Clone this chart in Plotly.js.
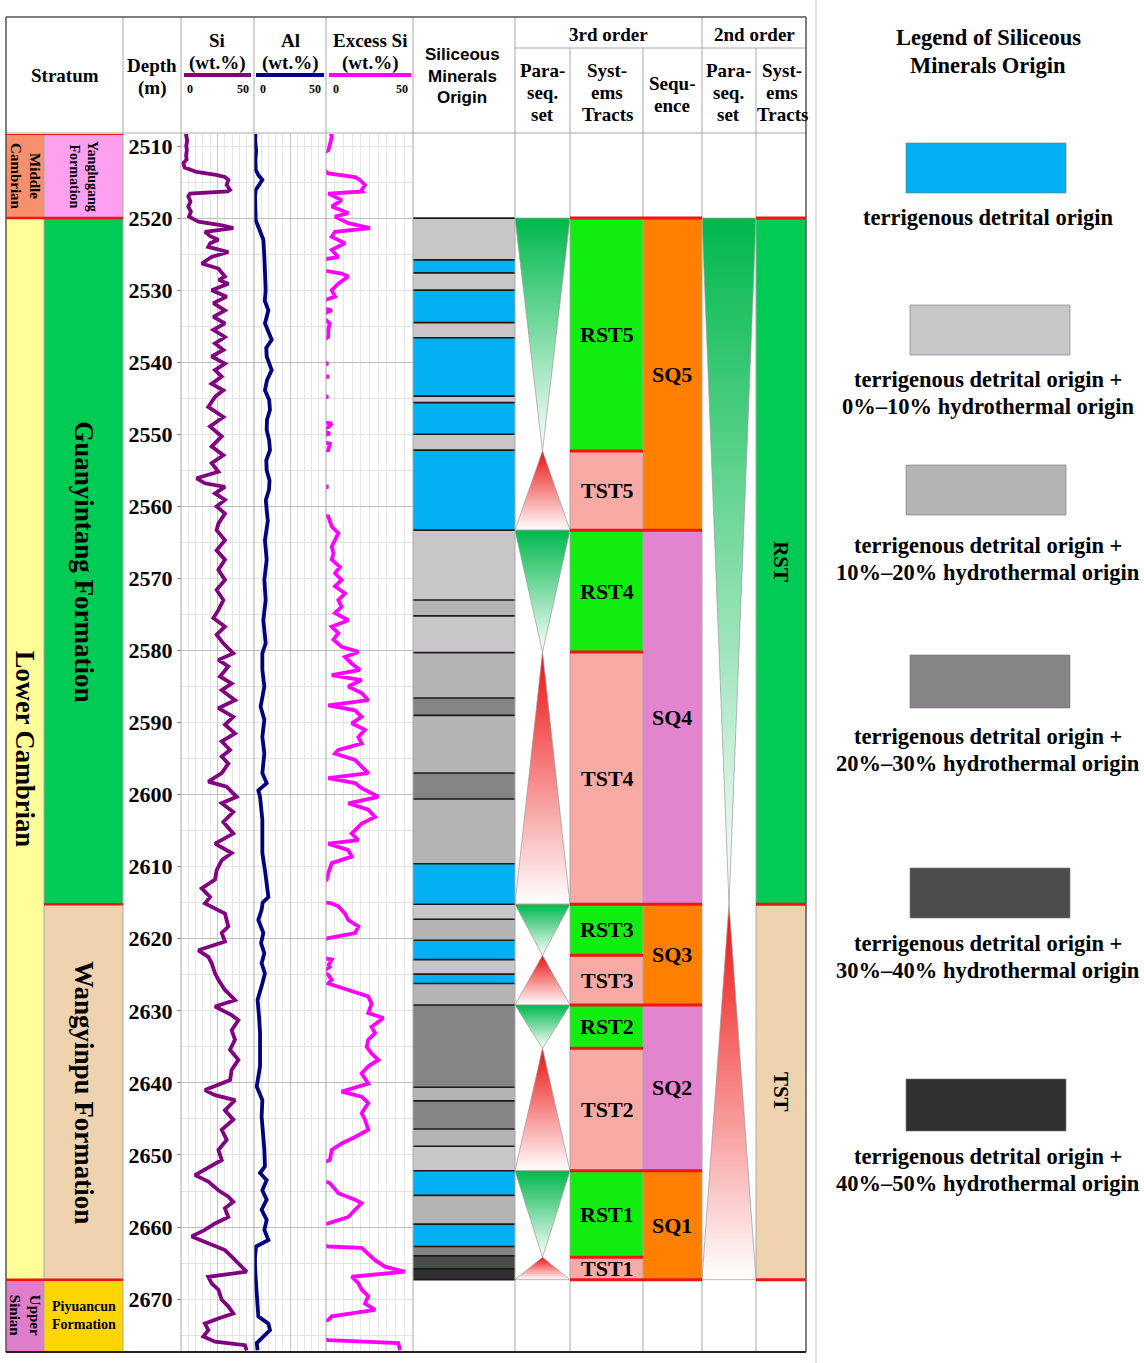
<!DOCTYPE html>
<html><head><meta charset="utf-8">
<script src="https://cdn.plot.ly/plotly-3.0.1.min.js"></script>
<style>html,body{margin:0;padding:0;background:#fff;}#chart{width:1144px;height:1363px;}</style>
</head><body><div id="chart"></div>
<script>
// ===================== DATA =====================
const eraNames = ['Middle Cambrian', 'Lower Cambrian', 'Upper Sinian'];
const eraTop = [2508.33, 2520.0, 2667.3];
const eraBase = [2520.0, 2667.3, 2677.34];

const formationNames = ['Yanglugang Formation', 'Guanyintang Formation', 'Wangyinpu Formation', 'Piyuancun Formation'];
const formationTop = [2508.33, 2520.0, 2615.2, 2667.3];
const formationBase = [2520.0, 2615.2, 2667.3, 2677.34];

// depth (m), Si (wt.%)
const siProfile = [
[2507.8,4.0],[2508.5,3.5],[2509.2,4.2],[2510.0,3.6],[2510.6,4.0],[2511.3,3.5],[2511.9,3.8],[2512.4,1.6],[2513.0,2.5],[2513.6,10.7],
[2514.0,24.0],[2514.3,30.1],[2514.7,32.4],[2515.4,31.3],[2516.1,33.6],[2516.3,32.0],[2516.6,6.2],[2517.0,5.0],[2517.7,6.5],[2518.4,5.0],
[2519.1,6.8],[2519.8,5.5],[2520.5,11.9],[2521.0,28.0],[2521.4,35.8],[2521.9,16.4],[2522.5,20.0],[2523.0,25.6],[2523.5,20.0],[2524.0,18.7],
[2524.7,32.4],[2525.4,21.0],[2526.3,14.2],[2527.0,25.6],[2528.1,30.1],[2528.6,26.0],[2529.1,32.4],[2530.0,21.0],[2530.9,31.3],[2531.8,22.2],
[2532.8,30.1],[2533.7,22.2],[2534.6,30.1],[2535.5,22.2],[2536.5,30.1],[2537.4,23.3],[2538.3,29.0],[2539.2,21.0],[2540.2,30.1],[2541.1,23.3],
[2542.0,27.9],[2543.0,21.0],[2543.9,29.0],[2544.8,23.3],[2546.2,18.7],[2547.6,29.0],[2548.9,19.9],[2550.3,27.9],[2551.7,21.0],[2552.9,29.0],
[2554.0,21.0],[2555.2,25.6],[2556.1,10.7],[2556.8,16.4],[2557.3,30.1],[2558.2,23.3],[2559.1,30.1],[2560.0,24.4],[2561.0,30.1],[2562.4,25.6],
[2563.3,24.4],[2564.7,30.1],[2566.1,24.4],[2567.4,30.1],[2568.8,25.6],[2570.2,30.1],[2571.6,24.4],[2573.0,29.0],[2574.4,25.6],[2575.5,22.2],
[2576.7,30.1],[2577.8,24.4],[2579.0,29.0],[2580.4,35.8],[2581.3,25.6],[2582.2,32.4],[2583.6,26.7],[2584.6,34.7],[2585.5,27.9],[2586.9,37.0],
[2588.0,25.6],[2589.2,35.8],[2590.3,30.1],[2591.5,37.0],[2592.6,27.9],[2593.8,33.6],[2594.7,27.9],[2595.7,32.4],[2597.0,27.9],[2598.2,18.7],
[2598.9,31.3],[2600.3,38.1],[2601.2,27.9],[2602.4,35.8],[2603.8,29.0],[2605.4,35.8],[2606.8,23.3],[2608.1,34.7],[2609.1,27.9],[2610.5,24.4],
[2611.8,23.3],[2613.0,14.2],[2614.2,19.9],[2615.1,16.4],[2616.5,30.1],[2618.3,32.4],[2619.2,27.9],[2620.4,30.1],[2621.6,11.9],[2622.5,18.7],
[2623.4,21.0],[2624.8,23.3],[2625.7,25.6],[2627.1,30.1],[2628.5,37.0],[2629.4,23.3],[2630.6,34.7],[2631.3,39.3],[2632.7,34.7],[2634.0,37.0],
[2635.4,33.6],[2636.8,39.3],[2638.2,34.7],[2639.6,33.6],[2641.0,16.4],[2641.7,23.3],[2642.4,37.0],[2643.8,30.1],[2645.1,35.8],[2646.5,27.9],
[2647.9,31.3],[2649.3,25.6],[2650.7,27.9],[2652.1,16.4],[2652.8,9.6],[2653.7,18.7],[2654.9,25.6],[2655.8,32.4],[2656.5,35.8],[2657.4,30.1],
[2658.6,32.4],[2659.5,23.3],[2660.4,16.4],[2661.3,7.3],[2662.3,18.7],[2663.2,30.1],[2664.1,34.7],[2665.0,39.3],[2666.2,45.0],[2666.9,18.7],
[2667.8,21.0],[2668.7,25.6],[2670.1,27.9],[2671.0,32.4],[2672.0,35.8],[2672.7,25.6],[2673.4,16.4],[2674.3,18.7],[2675.2,15.3],[2675.9,23.3],
[2676.4,43.8],[2677.1,45.0]
];

// depth (m), Al (wt.%)
const alProfile = [
[2507.8,1.2],[2509.2,0.8],[2510.6,1.5],[2511.9,1.0],[2513.3,1.2],[2514.0,3.0],[2514.7,5.8],[2515.4,3.5],[2516.1,1.2],[2517.0,0.7],
[2518.4,1.0],[2519.8,0.8],[2520.3,1.2],[2521.2,3.0],[2523.0,6.5],[2525.4,7.2],[2527.2,7.6],[2528.5,8.4],[2530.0,8.1],[2531.5,7.5],
[2532.8,10.0],[2534.6,7.6],[2536.9,12.3],[2538.0,8.5],[2539.2,8.8],[2541.1,12.3],[2542.5,9.0],[2543.9,7.6],[2545.2,10.5],[2546.6,11.1],
[2548.0,9.0],[2549.4,8.8],[2550.8,10.5],[2552.2,11.1],[2553.6,8.5],[2555.0,8.8],[2556.4,10.8],[2557.7,10.4],[2559.1,8.2],[2560.5,8.8],
[2562.0,9.6],[2564.7,7.6],[2567.4,8.8],[2570.2,7.2],[2573.0,8.1],[2575.8,6.5],[2579.0,8.1],[2580.4,5.8],[2582.7,5.8],[2585.0,7.2],
[2587.8,4.6],[2589.6,7.2],[2592.0,5.8],[2594.3,7.2],[2597.0,5.8],[2598.4,8.8],[2599.4,3.0],[2600.3,4.2],[2603.5,5.8],[2605.8,5.8],
[2608.1,5.8],[2610.5,7.6],[2612.8,9.5],[2614.2,10.0],[2615.0,6.0],[2616.0,5.3],[2617.4,3.0],[2619.2,6.5],[2620.6,4.9],[2622.0,7.2],
[2623.4,5.3],[2624.8,7.6],[2626.2,5.8],[2628.5,2.5],[2630.8,3.5],[2633.1,4.2],[2635.4,4.2],[2637.7,4.2],[2640.5,1.9],[2642.4,5.8],
[2644.7,5.3],[2647.0,6.5],[2649.3,7.2],[2651.6,7.6],[2652.5,4.2],[2653.5,8.8],[2654.9,5.8],[2656.2,8.8],[2657.6,5.3],[2659.0,8.8],
[2660.4,7.2],[2661.8,10.0],[2662.7,1.4],[2664.1,0.7],[2665.5,0.7],[2667.8,1.4],[2670.1,1.9],[2672.4,3.0],[2673.4,10.0],[2674.3,11.1],
[2675.2,6.5],[2676.1,1.9],[2677.1,2.5]
];

// depth (m), Excess Si (wt.%)  (negative values fall outside the 0-50 track)
const exProfile = [
[2507.8,2.2],[2508.7,3.3],[2509.6,2.5],[2510.6,1.3],[2511.2,-3],[2512.9,-3],[2513.8,1.3],[2514.3,16.7],[2514.7,19.5],[2515.4,22.4],
[2516.1,20.5],[2516.3,21.0],[2516.6,1.3],[2517.5,9.0],[2518.4,3.3],[2519.3,12.8],[2519.8,5.2],[2520.7,12.8],[2521.4,25.3],[2521.9,5.2],
[2522.6,3.3],[2523.5,10.9],[2524.4,3.3],[2525.4,7.1],[2525.8,-3],[2527.2,-3],[2527.7,9.0],[2528.1,12.8],[2529.1,7.1],[2530.0,3.3],
[2530.9,5.2],[2531.6,-3],[2532.5,-2],[2532.8,3.3],[2533.5,-3],[2534.6,2.2],[2535.5,1.3],[2536.5,1.3],[2537.2,-3],[2539.9,-3],
[2540.2,1.3],[2540.4,-3],[2541.8,-3],[2542.0,1.8],[2542.2,-3],[2544.6,-3],[2544.8,1.3],[2545.0,-3],[2548.3,-3],[2548.5,3.3],
[2549.0,1.5],[2549.4,-3],[2549.9,2.2],[2550.3,-3],[2551.0,-3],[2551.3,2.2],[2552.2,1.3],[2552.4,-3],[2557.0,-3],[2557.3,1.3],
[2557.5,-3],[2561.2,-3],[2561.4,1.3],[2562.8,3.3],[2563.7,7.1],[2564.7,5.2],[2565.6,3.3],[2566.5,4.3],[2567.4,3.3],[2568.4,8.0],
[2569.3,5.2],[2570.2,9.0],[2571.1,5.2],[2572.1,10.9],[2573.0,7.1],[2573.9,9.0],[2574.8,5.2],[2575.8,12.8],[2576.7,3.3],[2577.6,7.1],
[2578.5,4.3],[2579.5,9.0],[2580.2,18.6],[2580.9,10.9],[2581.8,14.8],[2582.7,19.5],[2583.4,3.3],[2584.1,20.5],[2585.0,12.8],[2585.9,20.5],
[2586.9,24.3],[2587.6,1.3],[2588.3,16.7],[2589.2,20.5],[2590.1,14.8],[2591.0,22.4],[2592.0,18.6],[2592.9,20.5],[2593.8,7.1],[2594.3,5.2],
[2595.2,16.7],[2596.1,20.5],[2597.0,24.3],[2597.7,1.3],[2598.4,16.7],[2599.1,20.5],[2600.3,30.1],[2601.2,12.8],[2602.1,24.3],[2603.1,28.2],
[2604.0,20.5],[2605.4,14.8],[2606.3,18.6],[2606.8,1.3],[2607.7,12.8],[2608.6,14.8],[2609.5,3.3],[2610.9,1.3],[2611.8,0.4],[2612.5,-3],
[2614.9,-3],[2615.1,3.3],[2615.5,7.1],[2616.5,10.9],[2617.4,12.8],[2618.3,18.6],[2619.2,16.7],[2619.9,1.3],[2620.2,-3],[2622.6,-3],
[2622.9,3.3],[2623.6,1.5],[2623.9,2.2],[2624.6,-2],[2625.0,1.3],[2625.7,3.3],[2626.2,1.3],[2627.1,12.8],[2628.0,24.3],[2629.0,26.2],
[2630.3,24.3],[2631.0,33.0],[2632.2,26.2],[2633.1,28.2],[2634.0,24.3],[2635.0,23.4],[2635.9,26.2],[2636.8,30.1],[2637.7,24.3],[2638.7,20.5],
[2640.1,24.3],[2641.2,9.0],[2641.9,20.5],[2642.8,24.3],[2644.2,20.5],[2645.1,22.4],[2646.5,24.3],[2647.5,16.7],[2648.4,9.0],[2649.3,3.3],
[2650.7,2.2],[2651.2,-3],[2653.5,-3],[2653.9,2.2],[2655.3,7.1],[2656.2,16.7],[2656.7,20.5],[2657.6,16.7],[2658.6,12.8],[2659.5,1.3],
[2659.7,-3],[2662.5,-3],[2662.7,1.3],[2662.9,20.5],[2663.7,24.3],[2664.6,28.2],[2665.5,33.9],[2666.2,45.4],[2666.9,14.8],[2667.8,18.6],
[2668.7,20.5],[2669.6,24.3],[2670.6,22.4],[2671.5,28.2],[2672.4,3.3],[2672.9,1.3],[2673.1,-3],[2675.4,-3],[2675.7,1.3],[2676.1,41.6],
[2677.1,42.5]
];

// siliceous minerals origin layers: boundaries (m) and class index per layer
const originDepths = [2520.0,2525.8,2527.6,2530.0,2534.5,2536.6,2544.7,2545.6,2550.0,2552.2,2563.3,2573.0,2575.2,2580.3,2586.6,2589.0,2597.0,2600.6,2609.6,2615.2,2617.3,2620.2,2622.9,2624.9,2626.2,2629.2,2640.6,2642.5,2646.4,2648.8,2652.2,2655.6,2659.6,2662.7,2664.0,2665.8,2667.3];
const originClass = [1,0,1,0,1,0,1,0,1,0, 1,2,1,2,3,2,3,2,0,1, 2,0,1,0,2,3,2,3,2,1, 0,2,0,3,4,5];
const originLabels = [
  ['terrigenous detrital origin'],
  ['terrigenous detrital origin +', '0%\u201310% hydrothermal origin'],
  ['terrigenous detrital origin +', '10%\u201320% hydrothermal origin'],
  ['terrigenous detrital origin +', '20%\u201330% hydrothermal origin'],
  ['terrigenous detrital origin +', '30%\u201340% hydrothermal origin'],
  ['terrigenous detrital origin +', '40%\u201350% hydrothermal origin']
];

// 3rd order
const tract3Names = ['RST5','TST5','RST4','TST4','RST3','TST3','RST2','TST2','RST1','TST1'];
const tract3Top  = [2520.0,2552.3,2563.3,2580.2,2615.2,2622.3,2629.2,2635.2,2652.2,2664.2];
const tract3Base = [2552.3,2563.3,2580.2,2615.2,2622.3,2629.2,2635.2,2652.2,2664.2,2667.3];
const seq3Names = ['SQ5','SQ4','SQ3','SQ2','SQ1'];
const seq3Top  = [2520.0,2563.3,2615.2,2629.2,2652.2];
const seq3Base = [2563.3,2615.2,2629.2,2652.2,2667.3];
// 2nd order
const tract2Names = ['RST','TST'];
const tract2Top  = [2520.0,2615.2];
const tract2Base = [2615.2,2667.3];

// ===================== STYLE / LAYOUT CONSTANTS =====================
const W = 1144, H = 1363;
const fx = px => px / W;
const fy = py => 1 - py / H;
const DEPTH_TOP = 2508.33, DEPTH_BOTTOM = 2677.34;
const PLOT_TOP = 134, PLOT_BOTTOM = 1352;
const COL = {era:[6,44], fm:[44,123], si:[181,254], al:[254,326], ex:[326,413], sil:[413,515],
             ps3:[515,570], st3:[570,643], sq3:[643,702], ps2:[702,756], st2:[756,806]};
const SERIF = 'Liberation Serif, Times New Roman, serif';
const SANS = 'Liberation Sans, Arial, sans-serif';
const RED = '#F01515';
const ERA_STYLE = {
  'Middle Cambrian': {color:'#F8906E', text:'Middle<br>Cambrian', size:15},
  'Lower Cambrian':  {color:'#FFFF99', text:'Lower Cambrian', size:26.5},
  'Upper Sinian':    {color:'#E07DCB', text:'Upper<br>Sinian', size:15}
};
const FM_STYLE = {
  'Yanglugang Formation':  {color:'#FDA0F0', text:'Yanglugang<br>Formation', size:14, angle:90},
  'Guanyintang Formation': {color:'#00CC55', text:'Guanyintang Formation', size:27, angle:90},
  'Wangyinpu Formation':   {color:'#EFD3AE', text:'Wangyinpu Formation', size:27, angle:90},
  'Piyuancun Formation':   {color:'#FFD500', text:'Piyuancun<br>Formation', size:14, angle:0}
};
const ORIGIN_COLORS = ['#00B0F0','#C8C6C9','#B4B4B4','#858385','#4B4D4B','#303030'];
const TRACT_COLOR = {RST:'#10EE10', TST:'#F9AAA4'};
const SEQ_COLORS = ['#FF8000','#E384CF'];
const TRACT2_COLOR = {RST:'#00CC55', TST:'#EFD3AE'};
const GREEN_GRAD = [[0,'#00B84C'],[1,'#FFFFFF']];
const RED_GRAD = [[0,'#EE1010'],[1,'#FFFFFF']];

// ===================== LAYOUT =====================
const layout = {width:W, height:H, margin:{l:0,r:0,t:0,b:0}, paper_bgcolor:'#FFFFFF', plot_bgcolor:'rgba(0,0,0,0)',
  showlegend:false, barmode:'overlay', hovermode:false, shapes:[], annotations:[]};
const yDomain = [fy(PLOT_BOTTOM), fy(PLOT_TOP)];
function blockAxis(c){ return {domain:[fx(c[0]),fx(c[1])], range:[0,1], type:'linear', visible:false, fixedrange:true, anchor:'y2'}; }
function curveAxis(c, major){ return {domain:[fx(c[0]),fx(c[1])], range:[0,50], type:'linear', showgrid:true, gridcolor:'#C6C6C6', gridwidth:1,
  tick0:0, dtick:major, minor:{tick0:0, dtick:5, showgrid:true, gridcolor:'#E6E6E6', gridwidth:1},
  showticklabels:false, ticks:'', zeroline:false, showline:false, fixedrange:true, anchor:'y'}; }
layout.xaxis = blockAxis(COL.era);
layout.xaxis2 = blockAxis(COL.fm);
layout.xaxis3 = curveAxis(COL.si, 25);
layout.xaxis4 = curveAxis(COL.al, 25);
layout.xaxis5 = curveAxis(COL.ex, 50);
layout.xaxis6 = blockAxis(COL.sil);
layout.xaxis7 = blockAxis(COL.ps3);
layout.xaxis8 = blockAxis(COL.st3);
layout.xaxis9 = blockAxis(COL.sq3);
layout.xaxis10 = blockAxis(COL.ps2);
layout.xaxis11 = blockAxis(COL.st2);
layout.yaxis = {domain:yDomain, range:[DEPTH_BOTTOM, DEPTH_TOP], type:'linear', showgrid:true, gridcolor:'#BDBDBD', gridwidth:1,
  tick0:2500, dtick:20, minor:{tick0:2500, dtick:5, showgrid:true, gridcolor:'#E2E2E2', gridwidth:1},
  showticklabels:false, ticks:'', zeroline:false, showline:false, fixedrange:true, anchor:'x3'};
layout.yaxis2 = {domain:yDomain, range:[DEPTH_BOTTOM, DEPTH_TOP], type:'linear', showgrid:false, zeroline:false, showline:false,
  anchor:'free', position:fx(181), side:'left', ticks:'outside', ticklen:4, tickwidth:1, tickcolor:'#888888',
  tick0:2510, dtick:10, tickfont:{family:SERIF, size:22, color:'#000000', weight:'bold'}, fixedrange:true};

// ===================== TRACES =====================
const traces = [];
function blockBars(xa, tops, bases, colors){
  traces.push({type:'bar', xaxis:xa, yaxis:'y2', x:tops.map(()=>0.5), base:tops, y:tops.map((t,i)=>bases[i]-t),
    width:1, marker:{color:colors, line:{width:0}}, hoverinfo:'skip', showlegend:false});
}
blockBars('x', eraTop, eraBase, eraNames.map(n=>ERA_STYLE[n].color));
blockBars('x2', formationTop, formationBase, formationNames.map(n=>FM_STYLE[n].color));

function curve(xa, profile, color){
  traces.push({type:'scatter', mode:'lines', xaxis:xa, yaxis:'y', x:profile.map(p=>p[1]), y:profile.map(p=>p[0]),
    line:{color:color, width:3.8}, hoverinfo:'skip', showlegend:false});
}
curve('x3', siProfile, '#800080');
curve('x4', alProfile, '#000080');
curve('x5', exProfile, '#FF00FF');

// siliceous layers
const oTop = originDepths.slice(0, -1), oBase = originDepths.slice(1);
blockBars('x6', oTop, oBase, originClass.map(c=>ORIGIN_COLORS[c]));
const bx = [], by = [];
originDepths.forEach(d=>{ bx.push(0,1,null); by.push(d,d,null); });
traces.push({type:'scatter', mode:'lines', xaxis:'x6', yaxis:'y2', x:bx, y:by, line:{color:'#1a1a1a', width:1.6}, hoverinfo:'skip', showlegend:false});

// systems tracts / sequences
blockBars('x8', tract3Top, tract3Base, tract3Names.map(n=>TRACT_COLOR[n.slice(0,3)]));
blockBars('x9', seq3Top, seq3Base, seq3Names.map((n,i)=>SEQ_COLORS[i%2]));
blockBars('x11', tract2Top, tract2Base, tract2Names.map(n=>TRACT2_COLOR[n]));

// parasequence-set triangles
function triangle(xa, name, top, base){
  const isR = name.startsWith('RST');
  const xs = isR ? [0,1,0.5,0] : [0.5,1,0,0.5];
  const ys = isR ? [top,top,base,top] : [top,base,base,top];
  traces.push({type:'scatter', mode:'lines', xaxis:xa, yaxis:'y2', x:xs, y:ys, fill:'toself',
    fillgradient:{type:'vertical', start:top, stop:base, colorscale: isR ? GREEN_GRAD : RED_GRAD},
    line:{color:'#9A9A9A', width:0.7}, hoverinfo:'skip', showlegend:false});
}
tract3Names.forEach((n,i)=>triangle('x7', n, tract3Top[i], tract3Base[i]));
tract2Names.forEach((n,i)=>triangle('x10', n, tract2Top[i], tract2Base[i]));

// ===================== SHAPES =====================
const shapes = layout.shapes;
function dline(px0, px1, depth, color, width){
  shapes.push({type:'line', xref:'paper', yref:'y2', x0:fx(px0), x1:fx(px1), y0:depth, y1:depth, line:{color:color, width:width}});
}
function pline(x0,y0,x1,y1,color,width){
  shapes.push({type:'line', xref:'paper', yref:'paper', x0:fx(x0), y0:fy(y0), x1:fx(x1), y1:fy(y1), line:{color:color, width:width}});
}
// column separators
const GRID = '#A8A8A8';
pline(44, PLOT_TOP, 44, PLOT_BOTTOM, GRID, 1);
[123,181,254,326,413,515,702].forEach(x=>pline(x, 17, x, PLOT_BOTTOM, GRID, 1));
[570,643,756].forEach(x=>pline(x, 48, x, PLOT_BOTTOM, GRID, 1));
pline(6, 133, 806, 133, GRID, 1);
pline(515, 48, 806, 48, GRID, 1);
// outer frame
pline(6, 17, 806, 17, '#555555', 1.5);
pline(6, 17, 6, PLOT_BOTTOM, '#555555', 1.5);
pline(806, 17, 806, PLOT_BOTTOM, '#555555', 1.5);
pline(6, PLOT_BOTTOM, 806, PLOT_BOTTOM, '#222222', 2);
// legend divider
pline(816, 0, 816, H, '#D6D6D6', 1.5);
// header colour keys
pline(184, 75, 251, 75, '#800080', 4);
pline(256, 75, 324, 75, '#000080', 4);
pline(329, 75, 411, 75, '#FF00FF', 4);

// red boundaries
eraTop.forEach((d,i)=>{ if(i>0) dline(COL.era[0], COL.era[1], d, RED, 2.5); });
formationTop.forEach((d,i)=>{ if(i>0) dline(COL.fm[0], COL.fm[1], d, RED, 2.5); });
dline(COL.era[0], COL.fm[1], formationTop[0], RED, 2);
tract3Top.forEach(d=>dline(COL.st3[0], COL.st3[1], d, RED, 3));
dline(COL.st3[0], COL.st3[1], tract3Base[tract3Base.length-1], RED, 3);
seq3Top.forEach(d=>dline(COL.sq3[0], COL.sq3[1], d, RED, 3));
dline(COL.sq3[0], COL.sq3[1], seq3Base[seq3Base.length-1], RED, 3);
tract2Top.forEach(d=>dline(COL.st2[0], COL.st2[1], d, RED, 3));
dline(COL.st2[0], COL.st2[1], tract2Base[tract2Base.length-1], RED, 3);

// ===================== ANNOTATIONS =====================
const anns = layout.annotations;
function txt(text, px, py, size, opt){
  opt = opt || {};
  anns.push({text:text, xref:'paper', yref:'paper', x:fx(px), y:fy(py), showarrow:false,
    xanchor:opt.xanchor||'center', yanchor:'middle', textangle:opt.angle||0, align:'center',
    font:{family:opt.family||SERIF, size:size, color:'#000000', weight:'bold'}});
}
function dtxt(text, px, depth, size, opt){
  opt = opt || {};
  anns.push({text:text, xref:'paper', yref:'y2', x:fx(px), y:depth, showarrow:false,
    xanchor:'center', yanchor:'middle', textangle:opt.angle||0, align:'center',
    font:{family:SERIF, size:size, color:'#000000', weight:'bold'}});
}
function lines(arr, px, ys, size, opt){ arr.forEach((t,i)=>txt(t, px, ys[i], size, opt)); }

// header
txt('Stratum', 65, 76, 19);
lines(['Depth','(m)'], 152, [65, 88], 19);
lines(['Si','(wt.%)'], 217, [41, 63], 19);
lines(['Al','(wt.%)'], 290, [41, 63], 19);
lines(['Excess Si','(wt.%)'], 370, [41, 63], 19);
txt('0', 185, 89, 12, {xanchor:'left'}); txt('50', 251, 89, 12, {xanchor:'right'});
txt('0', 258, 89, 12, {xanchor:'left'}); txt('50', 323, 89, 12, {xanchor:'right'});
txt('0', 331, 89, 12, {xanchor:'left'}); txt('50', 410, 89, 12, {xanchor:'right'});
lines(['Siliceous','Minerals','Origin'], 462, [55, 77, 98], 17, {family:SANS});
txt('3rd order', 608, 34, 19);
txt('2nd order', 754, 34, 19);
lines(['Para-','seq.','set'], 542, [70, 92, 115], 19);
lines(['Syst-','ems','Tracts'], 607, [70, 92, 115], 19);
lines(['Sequ-','ence'], 672, [83, 105], 19);
lines(['Para-','seq.','set'], 728, [70, 92, 115], 19);
lines(['Syst-','ems','Tracts'], 782, [70, 92, 115], 19);

// stratum labels
eraNames.forEach((n,i)=>{ const s=ERA_STYLE[n]; dtxt(s.text, 25, (eraTop[i]+eraBase[i])/2, s.size, {angle:90}); });
formationNames.forEach((n,i)=>{ const s=FM_STYLE[n]; dtxt(s.text, 84, (formationTop[i]+formationBase[i])/2, s.size, {angle:s.angle}); });

// sequence labels
tract3Names.forEach((n,i)=>dtxt(n, 607, (tract3Top[i]+tract3Base[i])/2, 22));
seq3Names.forEach((n,i)=>dtxt(n, 672, (seq3Top[i]+seq3Base[i])/2, 22));
tract2Names.forEach((n,i)=>dtxt(n, 781, (tract2Top[i]+tract2Base[i])/2, 21, {angle:90}));

// legend
lines(['Legend of Siliceous','Minerals Origin'], 988, [38, 65], 22.5);
const LEGEND_BOX = [
  {x0:906, x1:1066, y0:143, y1:193, ty:[218]},
  {x0:910, x1:1070, y0:305, y1:355, ty:[380, 407]},
  {x0:906, x1:1066, y0:465, y1:515, ty:[545, 572]},
  {x0:910, x1:1070, y0:655, y1:708, ty:[736, 763]},
  {x0:910, x1:1070, y0:868, y1:918, ty:[943, 970]},
  {x0:906, x1:1066, y0:1079, y1:1131, ty:[1156, 1183]}
];
originLabels.forEach((lab, i)=>{
  const b = LEGEND_BOX[i];
  shapes.push({type:'rect', xref:'paper', yref:'paper', x0:fx(b.x0), x1:fx(b.x1), y0:fy(b.y1), y1:fy(b.y0),
    fillcolor:ORIGIN_COLORS[i], line:{width:0.6, color:'#777777'}});
  lines(lab, 988, b.ty, 22.5);
});

Plotly.newPlot('chart', traces, layout, {staticPlot:true, displayModeBar:false});
</script></body></html>
